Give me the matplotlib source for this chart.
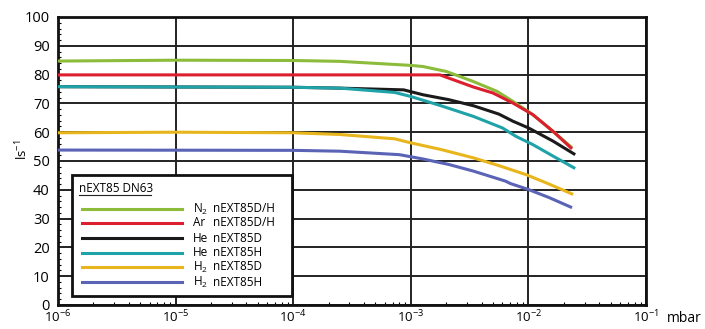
import numpy as np
import matplotlib.pyplot as plt
from matplotlib.ticker import LogLocator, MultipleLocator, NullFormatter

plt.rcParams['font.family'] = ['Open Sans', 'DejaVu Sans']
plt.rcParams['mathtext.fontset'] = 'custom'
plt.rcParams['mathtext.rm'] = 'Open Sans'

# pumping speed curves, pressure in mbar, speed in l/s
p_n2 = [1e-6, 1e-5, 1e-4, 2.5e-4, 1e-3, 1.27e-3, 2.0e-3, 3.4e-3, 5.4e-3, 7.4e-3, 1.09e-2, 1.62e-2, 2.35e-2]
s_n2 = [84.7, 85.0, 84.9, 84.6, 83.2, 82.8, 81.1, 77.6, 74.2, 70.7, 66.1, 60.3, 54.6]

p_ar = [1e-6, 1e-4, 1e-3, 1.77e-3, 2.0e-3, 3.4e-3, 5.0e-3, 7.4e-3, 1.09e-2, 1.62e-2, 2.35e-2]
s_ar = [79.9, 79.9, 79.9, 79.9, 79.1, 75.7, 73.6, 70.1, 66.1, 60.3, 54.2]

p_he_d = [1e-6, 1e-4, 2.5e-4, 8.7e-4, 1.27e-3, 2.1e-3, 3.4e-3, 5.6e-3, 7.4e-3, 1.0e-2, 1.62e-2, 2.5e-2]
s_he_d = [75.8, 75.6, 75.3, 74.7, 73.0, 71.3, 69.2, 66.3, 63.8, 61.5, 56.9, 52.2]

p_he_h = [1e-6, 1e-4, 2.5e-4, 7.3e-4, 1.0e-3, 1.8e-3, 3.4e-3, 6.0e-3, 7.8e-3, 1.09e-2, 1.62e-2, 2.5e-2]
s_he_h = [75.8, 75.6, 75.3, 73.8, 72.4, 69.2, 65.5, 61.5, 58.6, 55.7, 51.7, 47.4]

p_h2_d = [1e-6, 1e-5, 1e-4, 2.5e-4, 7.3e-4, 1.0e-3, 1.8e-3, 3.4e-3, 5.6e-3, 9.5e-3, 1.4e-2, 2.4e-2]
s_h2_d = [59.8, 60.0, 59.8, 59.2, 57.7, 56.3, 54.0, 51.1, 48.4, 45.3, 42.5, 38.4]

p_h2_h = [1e-6, 1e-4, 2.5e-4, 8.0e-4, 1.27e-3, 2.1e-3, 3.4e-3, 6.4e-3, 7.0e-3, 1.0e-2, 1.5e-2, 2.35e-2]
s_h2_h = [53.8, 53.7, 53.4, 52.2, 50.7, 48.8, 46.5, 43.0, 42.2, 40.1, 37.3, 33.8]

series = [
    (p_n2, s_n2, '#8dbb3a', 'N$_2$', 'nEXT85D/H'),
    (p_ar, s_ar, '#dc1f2e', 'Ar', 'nEXT85D/H'),
    (p_he_d, s_he_d, '#1a1a1a', 'He', 'nEXT85D'),
    (p_he_h, s_he_h, '#1fa3a8', 'He', 'nEXT85H'),
    (p_h2_d, s_h2_d, '#e8b51c', 'H$_2$', 'nEXT85D'),
    (p_h2_h, s_h2_h, '#5a63b5', 'H$_2$', 'nEXT85H'),
]

fig = plt.figure(figsize=(7.05, 3.29), dpi=100)
ax = fig.add_axes([58 / 705, 24 / 329, 588 / 705, 288 / 329])

for p, s, c, gas, model in series:
    ax.plot(p, s, color=c, lw=2.2, solid_capstyle='butt', zorder=3)

ax.set_xscale('log')
ax.set_xlim(1e-6, 1e-1)
ax.set_ylim(0, 100)
ax.yaxis.set_major_locator(MultipleLocator(10))
ax.yaxis.set_minor_locator(MultipleLocator(2))
ax.xaxis.set_major_locator(LogLocator(base=10, numticks=10))
ax.xaxis.set_minor_locator(LogLocator(base=10, subs=np.arange(2, 10), numticks=10))
ax.xaxis.set_minor_formatter(NullFormatter())
ax.grid(True, which='major', color='#222222', lw=1.4)
for sp in ax.spines.values():
    sp.set_linewidth(2)
    sp.set_color('#111111')
ax.tick_params(which='major', direction='in', length=0, labelsize=10.5)
ax.tick_params(which='minor', direction='in', length=2.5, width=0.8)
ax.tick_params(axis='x', pad=3, labelsize=9.5)
ax.tick_params(axis='y', pad=6)
fig.text(22 / 705, 1 - 150 / 329, 'ls$^{-1}$', fontsize=9.5, rotation=90, va='center', ha='center')
fig.text(667 / 705, 1 - 318 / 329, 'mbar', fontsize=10, va='center', ha='left')

# legend box
box = plt.Rectangle((72 / 705, 1 - 296 / 329), 220 / 705, 121 / 329, transform=fig.transFigure,
                    facecolor='white', edgecolor='#111111', lw=2, zorder=5)
fig.add_artist(box)
fig.text(79 / 705, 1 - 188 / 329, 'nEXT85 DN63', fontsize=8.5, va='center', ha='left', zorder=6)
fig.add_artist(plt.Line2D([79 / 705, 151 / 705], [1 - 195 / 329, 1 - 195 / 329],
                          transform=fig.transFigure, color='#222222', lw=0.8, zorder=6))
rows = [209, 223, 238, 253, 267, 282]
for (p, s, c, gas, model), yr in zip(series, rows):
    yf = 1 - yr / 329
    fig.add_artist(plt.Line2D([82 / 705, 182 / 705], [yf, yf], transform=fig.transFigure,
                              color=c, lw=2.2, zorder=6))
    fig.text(193 / 705, yf, gas, fontsize=8.5, va='center', ha='left', zorder=6)
    fig.text(213 / 705, yf, model, fontsize=8.5, va='center', ha='left', zorder=6)

fig.savefig('out.png', dpi=100)
